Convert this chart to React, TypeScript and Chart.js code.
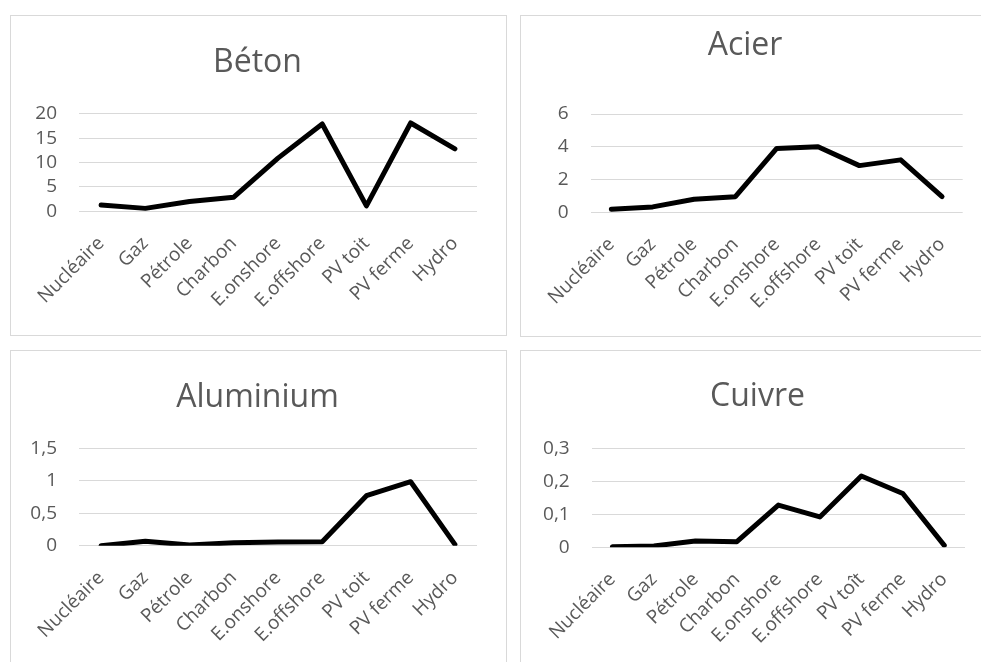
import React, { useEffect, useRef } from "react";
import { Chart, registerables } from "chart.js";

Chart.register(...registerables);

// Technologies compared (the copper chart spells "PV toît")
const CATEGORIES = ["Nucléaire", "Gaz", "Pétrole", "Charbon", "E.onshore", "E.offshore", "PV toit", "PV ferme", "Hydro"];
const CATEGORIES_CUIVRE = ["Nucléaire", "Gaz", "Pétrole", "Charbon", "E.onshore", "E.offshore", "PV toît", "PV ferme", "Hydro"];

// Material intensity per technology
const BETON = [1.3, 0.6, 2.0, 2.9, 10.9, 17.9, 1.1, 18.1, 12.8];
const ACIER = [0.18, 0.33, 0.8, 0.95, 3.9, 4.0, 2.85, 3.2, 0.96];
const ALUMINIUM = [0.0, 0.067, 0.01, 0.046, 0.057, 0.062, 0.77, 0.985, 0.02];
const CUIVRE = [0.002, 0.004, 0.019, 0.017, 0.128, 0.092, 0.216, 0.163, 0.006];

// Value-axis ticks
const BETON_TICKS = [0, 5, 10, 15, 20];
const ACIER_TICKS = [0, 2, 4, 6];
const ALUMINIUM_TICKS = [0, 0.5, 1, 1.5];
const CUIVRE_TICKS = [0, 0.1, 0.2, 0.3];

const FONT = "'Open Sans', 'Noto Sans', sans-serif";
const TEXT = "#595959";
const GRID = "#d9d9d9";

type Box = { left: number; top: number; width: number; height: number };

type PanelProps = {
  title: string;
  labels: string[];
  values: number[];
  ticks: number[];
  frame: Box;
  canvas: Box;
  titleTop: number;
  titleBottom: number;
  yWidth: number; // left axis band, holds the value labels
  spacer: number; // empty right band, keeps the title centred on the frame
  padRight: number;
  xHeight: number;
};

function Panel(p: PanelProps) {
  const ref = useRef<HTMLCanvasElement | null>(null);

  useEffect(() => {
    if (!ref.current) return;
    const fmt = new Intl.NumberFormat("fr-FR", { maximumFractionDigits: 2 });
    const chart = new Chart(ref.current, {
      type: "line",
      data: {
        labels: p.labels,
        datasets: [
          {
            data: p.values,
            borderColor: "#000000",
            borderWidth: 5,
            borderJoinStyle: "round",
            borderCapStyle: "round",
            pointRadius: 0,
            tension: 0,
            fill: false,
            yAxisID: "y",
          },
        ],
      },
      options: {
        animation: false,
        responsive: false,
        maintainAspectRatio: false,
        layout: { padding: { left: 0, right: p.padRight, top: 0, bottom: 0 } },
        plugins: {
          legend: { display: false },
          tooltip: { enabled: false },
          title: {
            display: true,
            text: p.title,
            color: TEXT,
            font: { family: FONT, size: 32, weight: "normal", lineHeight: 1.2 },
            padding: { top: p.titleTop, bottom: p.titleBottom },
          },
        },
        scales: {
          x: {
            type: "category",
            offset: true,
            grid: { display: false, drawTicks: false },
            border: { display: false },
            ticks: {
              color: TEXT,
              font: { family: FONT, size: 19 },
              minRotation: 45,
              maxRotation: 45,
              autoSkip: false,
              padding: 21,
            },
            afterFit: (s: any) => {
              s.height = p.xHeight;
            },
          },
          y: {
            position: "left",
            min: p.ticks[0],
            max: p.ticks[p.ticks.length - 1],
            grid: { color: GRID, lineWidth: 1, drawTicks: false },
            border: { display: false },
            ticks: {
              color: TEXT,
              font: { family: FONT, size: 19 },
              padding: 22,
              autoSkip: false,
              callback: (v: any) => fmt.format(Number(v)),
            },
            afterBuildTicks: (s: any) => {
              s.ticks = p.ticks.map((v) => ({ value: v }));
            },
            afterFit: (s: any) => {
              s.width = p.yWidth;
            },
          },
          spacer: {
            type: "linear",
            position: "right",
            grid: { display: false, drawTicks: false },
            border: { display: false },
            ticks: { display: false },
            afterFit: (s: any) => {
              s.width = p.spacer;
            },
          },
        },
      },
    });
    return () => chart.destroy();
  }, []);

  return (
    <>
      <div
        style={{
          position: "absolute",
          left: p.frame.left,
          top: p.frame.top,
          width: p.frame.width,
          height: p.frame.height,
          border: `1px solid ${GRID}`,
          boxSizing: "border-box",
        }}
      />
      <canvas
        ref={ref}
        width={p.canvas.width}
        height={p.canvas.height}
        style={{
          position: "absolute",
          left: p.canvas.left,
          top: p.canvas.top,
          width: p.canvas.width,
          height: p.canvas.height,
        }}
      />
    </>
  );
}

export default function App() {
  return (
    <div
      style={{
        position: "fixed",
        left: 0,
        top: 0,
        width: 981,
        height: 662,
        overflow: "hidden",
        background: "#ffffff",
      }}
    >
      <Panel
        title="Béton"
        labels={CATEGORIES}
        values={BETON}
        ticks={BETON_TICKS}
        frame={{ left: 10, top: 15, width: 497, height: 321 }}
        canvas={{ left: 10, top: 15, width: 496, height: 320 }}
        titleTop={28.3}
        titleBottom={32}
        yWidth={69}
        spacer={28}
        padRight={1}
        xHeight={123.7}
      />
      <Panel
        title="Acier"
        labels={CATEGORIES}
        values={ACIER}
        ticks={ACIER_TICKS}
        frame={{ left: 520, top: 15, width: 520, height: 322 }}
        canvas={{ left: 520, top: 15, width: 461, height: 321 }}
        titleTop={11.3}
        titleBottom={49.3}
        yWidth={70.7}
        spacer={7.3}
        padRight={11}
        xHeight={123.7}
      />
      <Panel
        title="Aluminium"
        labels={CATEGORIES}
        values={ALUMINIUM}
        ticks={ALUMINIUM_TICKS}
        frame={{ left: 10, top: 350, width: 497, height: 400 }}
        canvas={{ left: 10, top: 350, width: 496, height: 312 }}
        titleTop={28.3}
        titleBottom={31.6}
        yWidth={69}
        spacer={28}
        padRight={1}
        xHeight={116.3}
      />
      <Panel
        title="Cuivre"
        labels={CATEGORIES_CUIVRE}
        values={CUIVRE}
        ticks={CUIVRE_TICKS}
        frame={{ left: 520, top: 350, width: 520, height: 400 }}
        canvas={{ left: 520, top: 350, width: 475, height: 312 }}
        titleTop={27.3}
        titleBottom={32.6}
        yWidth={71.7}
        spacer={30}
        padRight={0}
        xHeight={114.7}
      />
    </div>
  );
}
